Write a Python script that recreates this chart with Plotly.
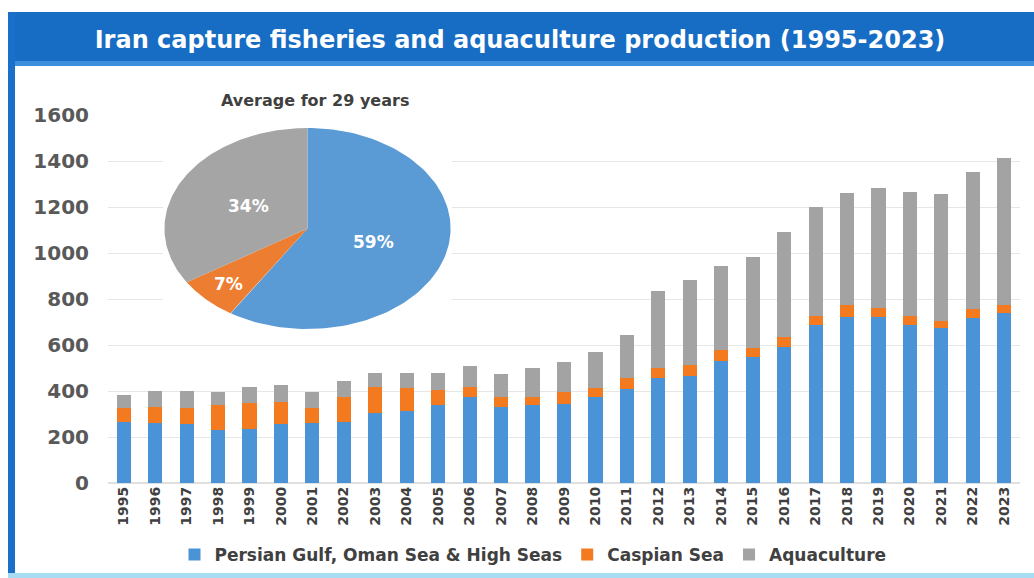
import numpy as np
import plotly.graph_objects as go

# ---- data (thousand tonnes) ----
years = [str(y) for y in range(1995, 2024)]
persian_gulf = [265, 260, 256, 230, 235, 255, 261, 265, 304, 313,
                339, 374, 330, 339, 345, 374, 409, 456, 465, 530,
                548, 591, 687, 722, 722, 687, 674, 717, 739]
caspian = [60, 70, 70, 109, 113, 97, 65, 109, 113, 100,
           65, 43, 45, 35, 50, 39, 47, 44, 48, 48,
           39, 44, 39, 52, 39, 39, 30, 40, 35]
aquaculture = [57, 70, 74, 57, 69, 74, 70, 69, 61, 65,
               74, 90, 100, 126, 130, 157, 187, 335, 370, 365,
               396, 456, 474, 487, 522, 539, 553, 595, 639]

series_names = ["Persian Gulf, Oman Sea & High Seas", "Caspian Sea", "Aquaculture"]
pie_share = [59, 7, 34]          # average share over 29 years, %
y_ticks = [0, 200, 400, 600, 800, 1000, 1200, 1400, 1600]

bar_colors = ["#4a93d6", "#f47a20", "#a3a3a3"]
pie_colors = ["#5b9bd5", "#ed7d31", "#a5a5a5"]

W, H = 1034, 578
ML, MR, MT, MB = 108, 14, 115, 95
PW, PH = W - ML - MR, H - MT - MB


def px_x(p):
    return (p - ML) / PW


def px_y(p):
    return (H - MB - p) / PH


fig = go.Figure()

for name, vals, col in zip(series_names, [persian_gulf, caspian, aquaculture], bar_colors):
    fig.add_trace(go.Bar(x=years, y=vals, name=name, marker=dict(color=col, line=dict(width=0))))

# ---- pie drawn as wedges on its own (stretched) axes ----
start = 0.0
label_r = [0.48, 0.78, 0.47]
for i, (share, col) in enumerate(zip(pie_share, pie_colors)):
    end = start + share / 100 * 2 * np.pi
    t = np.linspace(start, end, 120)
    xs = np.concatenate([[0], np.sin(t), [0]])
    ys = np.concatenate([[0], np.cos(t), [0]])
    fig.add_trace(go.Scatter(x=xs, y=ys, fill="toself", fillcolor=col, mode="lines",
                             line=dict(width=0, color=col), showlegend=False,
                             hoverinfo="skip", xaxis="x2", yaxis="y2"))
    mid = (start + end) / 2
    fig.add_annotation(x=label_r[i] * np.sin(mid), y=label_r[i] * np.cos(mid),
                       xref="x2", yref="y2", text=f"{share}%", showarrow=False,
                       xanchor="center", yanchor="middle",
                       font=dict(family="DejaVu Sans", size=17, color="white", weight="bold"))
    start = end

fig.add_annotation(x=px_x(315), y=px_y(101), xref="paper", yref="paper",
                   xanchor="center", yanchor="middle",
                   text="Average for 29 years", showarrow=False,
                   font=dict(family="DejaVu Sans", size=16, color="#404040", weight="bold"))

# ---- frame decoration ----
shapes = [
    dict(type="rect", xref="paper", yref="paper", x0=px_x(8), x1=px_x(1034),
         y0=px_y(66), y1=px_y(12), fillcolor="#176cc4", line=dict(width=0), layer="below"),
    dict(type="rect", xref="paper", yref="paper", x0=px_x(8), x1=px_x(1034),
         y0=px_y(66), y1=px_y(61), fillcolor="#3b8fdc", line=dict(width=0), layer="below"),
    dict(type="rect", xref="paper", yref="paper", x0=px_x(8), x1=px_x(15),
         y0=px_y(578), y1=px_y(12), fillcolor="#1a6fc8", line=dict(width=0), layer="below"),
    dict(type="rect", xref="paper", yref="paper", x0=px_x(8), x1=px_x(1034),
         y0=px_y(578), y1=px_y(573), fillcolor="#a8dcf2", line=dict(width=0), layer="below"),
]

fig.update_layout(
    width=W, height=H,
    margin=dict(l=ML, r=MR, t=MT, b=MB, autoexpand=False),
    paper_bgcolor="white", plot_bgcolor="white",
    barmode="stack", bargap=0.55,
    shapes=shapes,
    title=dict(text="Iran capture fisheries and aquaculture production (1995-2023)",
               x=520 / W, y=1 - 40 / H, xanchor="center", yanchor="middle",
               font=dict(family="DejaVu Sans", size=24, color="white", weight="bold")),
    xaxis=dict(type="category", tickangle=-90, showgrid=False, showline=False, ticks="",
               automargin=False,
               tickfont=dict(family="DejaVu Sans", size=14, color="#404040", weight="bold")),
    yaxis=dict(range=[0, 1600], tickvals=y_ticks, showgrid=True, gridcolor="#e6e6e6",
               gridwidth=1, zeroline=True, zerolinecolor="#e0e0e0", showline=False,
               ticks="", ticklabelstandoff=18, automargin=False,
               tickfont=dict(family="DejaVu Sans", size=20, color="#595959", weight="bold")),
    xaxis2=dict(domain=[px_x(163), px_x(452)], range=[-1.01, 1.01], visible=False,
                anchor="y2", fixedrange=True),
    yaxis2=dict(domain=[px_y(330), px_y(127)], range=[-1.01, 1.01], visible=False,
                anchor="x2", fixedrange=True),
    legend=dict(orientation="h", x=px_x(533), y=px_y(555), xanchor="center", yanchor="middle",
                traceorder="normal",
                font=dict(family="DejaVu Sans", size=17, color="#404040", weight="bold"),
                itemwidth=30, bgcolor="rgba(0,0,0,0)"),
    showlegend=True,
)

fig.write_html("out.html")
